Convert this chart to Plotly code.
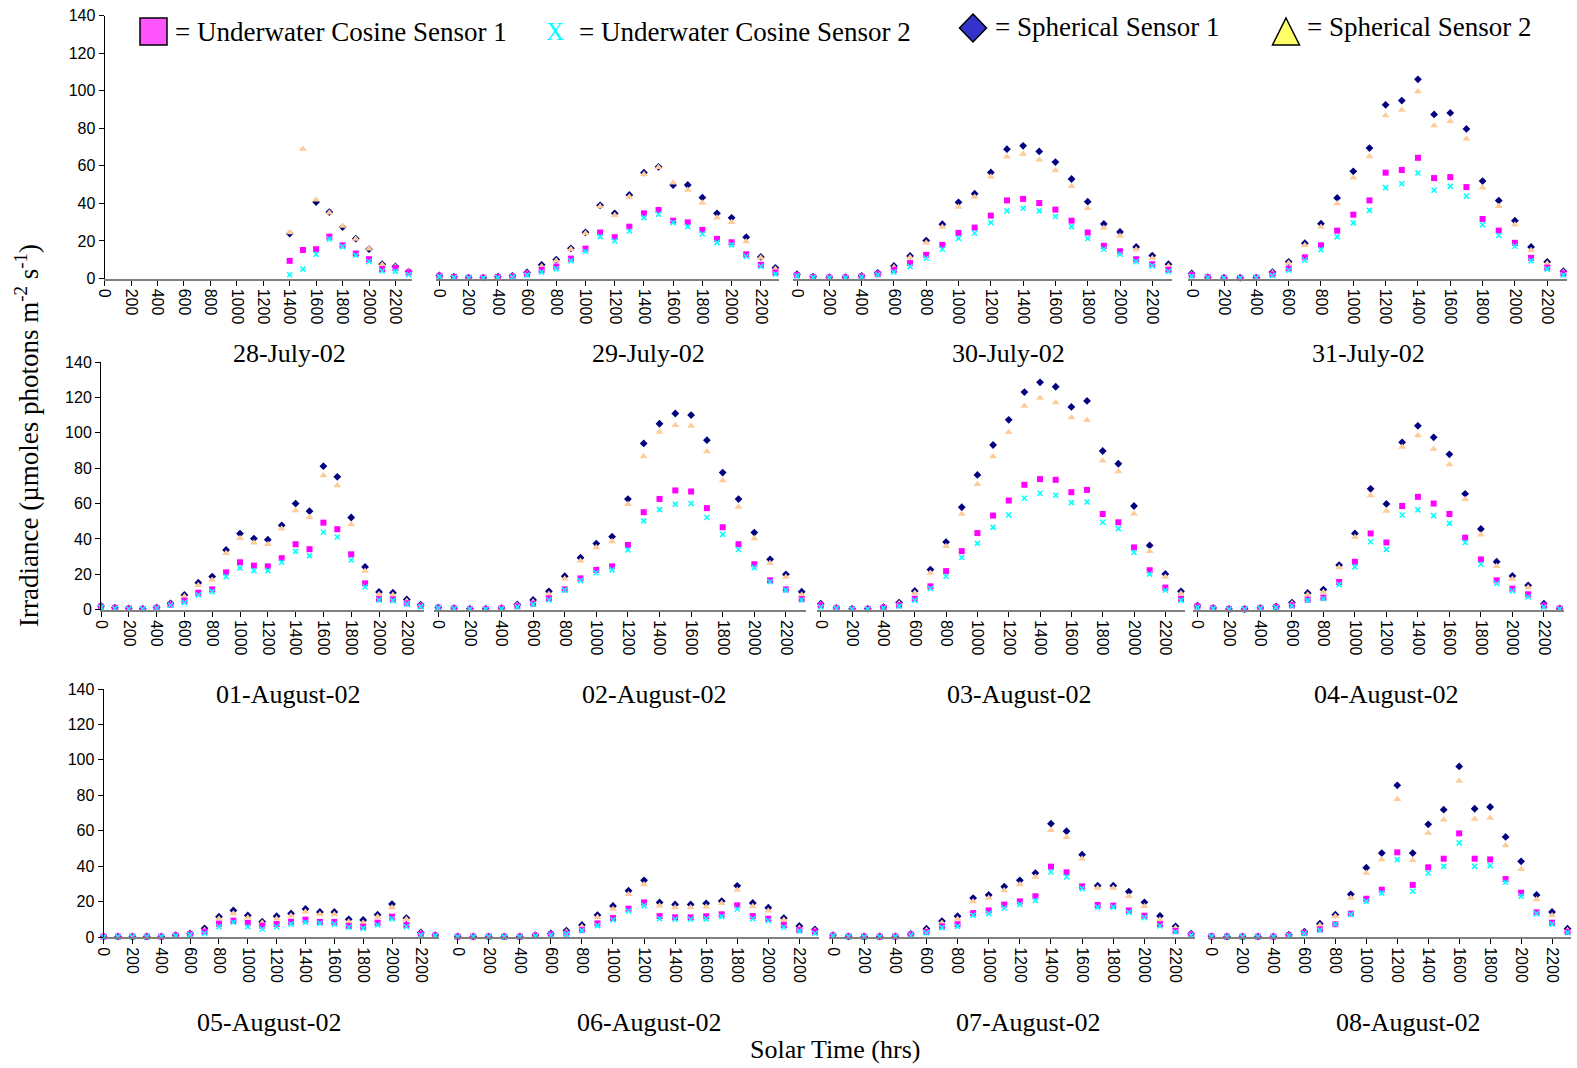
import plotly.graph_objects as go

W, H = 1577, 1068

hours = list(range(0, 2400, 100))
tick_hours = list(range(0, 2400, 200))
y_ticks = list(range(0, 160, 20))

dates = ["28-July-02", "29-July-02", "30-July-02", "31-July-02",
         "01-August-02", "02-August-02", "03-August-02", "04-August-02",
         "05-August-02", "06-August-02", "07-August-02", "08-August-02"]

N = None
# ---- 28 July (record starts at 1400) ----
jul28_sph1 = [N]*14 + [23.9, N, 40.7, 35.4, 27.4, 21.2, 15.6, 7.6, 6.4, 3.7]
jul28_sph2 = [N]*14 + [24.5, 69, 42, 35, 28, 21, 15.9, 7.3, 6.2, 3.7]
jul28_cos1 = [N]*14 + [9.4, 15.2, 15.6, 22.3, 17.7, 13.3, 10.3, 5, 5.5, 3.2]
jul28_cos2 = [N]*14 + [2, 5, 12.9, 21, 17, 12.4, 9, 4, 3.8, 2]
# ---- 29 July ----
jul29_sph1 = [1.6, 1, 0.5, 0.5, 1, 1.4, 3.2, 7.3, 10.1, 16.1, 24.6, 39, 34.7, 44.5, 56.4, 59.5, 49.8, 49.8, 43.1, 34.7, 32.3, 22, 11.5, 5.7]
jul29_sph2 = [1.4, 0.9, 0.4, 0.4, 0.9, 1.2, 2.8, 6.4, 9.4, 15.6, 24.1, 38.3, 33.7, 43.6, 55.6, 59.2, 51, 47.1, 40.4, 32.4, 29.9, 19.7, 11, 5.1]
jul29_cos1 = [1.4, 0.8, 0.4, 0.4, 0.8, 1, 2.3, 4.6, 6.4, 10.6, 15.9, 24.5, 22, 27.6, 34.7, 36.5, 30.8, 29.9, 25.9, 21.1, 19.3, 12.9, 7.3, 3.2]
jul29_cos2 = [1, 0.5, 0.2, 0.2, 0.5, 0.7, 1.8, 3.4, 5.1, 9.4, 14.4, 22.3, 20, 25.3, 32.4, 34.2, 29.8, 27.6, 23.7, 19.1, 17.9, 11.7, 6.4, 2.3]
# ---- 30 July ----
jul30_sph1 = [2.3, 1, 0.7, 0.7, 1.4, 3, 6.7, 12, 20.2, 28.9, 40.6, 45.2, 56.5, 68.9, 70.7, 67.7, 62, 53, 40.9, 29.1, 24.8, 16.8, 12.2, 7.6]
jul30_sph2 = [2, 0.9, 0.6, 0.6, 1.2, 2.6, 6, 11.2, 19, 27.5, 38.1, 43.4, 54.2, 64.9, 66.3, 63.3, 57.6, 49.1, 37.4, 26.9, 22.7, 15.4, 10.8, 6.6]
jul30_cos1 = [1.8, 0.8, 0.5, 0.5, 1, 2.3, 4.6, 8.2, 12.6, 17.9, 24.3, 27.1, 33.5, 41.6, 42.4, 40.2, 36.7, 30.8, 24.5, 17.4, 14.5, 10.3, 7.6, 4.6]
jul30_cos2 = [1.4, 0.6, 0.3, 0.3, 0.8, 2, 3.4, 6.4, 10.8, 15.6, 21.4, 24.1, 29.8, 36, 37.4, 36, 33, 27.6, 21.4, 15.6, 12.9, 9, 6.7, 3.7]
# ---- 31 July ----
jul31_sph1 = [2.7, 0.7, 0.4, 0.4, 0.5, 3.4, 8.9, 18.8, 29.2, 42.9, 57.1, 69.5, 92.5, 94.8, 106.1, 87.4, 88.2, 79.7, 51.9, 41.5, 30.8, 16.8, 8.9, 3.9]
jul31_sph2 = [2.3, 0.6, 0.3, 0.3, 0.4, 3, 8.3, 17.7, 27.5, 39.9, 53.7, 65, 86.8, 89.8, 99.6, 81.5, 83.8, 74.4, 48.4, 38.5, 28.7, 15.1, 8, 3.4]
jul31_cos1 = [1.8, 0.6, 0.3, 0.3, 0.4, 2.2, 5.3, 11.3, 17.7, 25.5, 34, 41.6, 56.4, 57.8, 64.3, 53.5, 54, 48.7, 31.7, 25.5, 19, 11, 5.8, 2.7]
jul31_cos2 = [1.2, 0.4, 0.2, 0.2, 0.3, 1.6, 4.4, 9.7, 15.4, 22.2, 29.6, 36.3, 48.4, 50.5, 56.2, 47, 49.1, 43.8, 28.7, 22.9, 17.2, 9.4, 5, 1.8]
# ---- 01 August ----
aug01_sph1 = [2.1, 1.1, 0.8, 0.6, 1.3, 3.6, 8.3, 15.3, 18.7, 33.8, 43, 40.2, 39.6, 47.7, 60, 55.7, 81.1, 75.1, 52.1, 24.2, 10, 9.6, 5.8, 2.8]
aug01_sph2 = [1.9, 1, 0.7, 0.5, 1.2, 3.2, 7.4, 13.8, 16.8, 31.9, 40.4, 37.9, 37, 45.7, 56, 52.3, 75.8, 70.2, 48.1, 21.9, 8.7, 8.3, 4.9, 2.5]
aug01_cos1 = [1.7, 0.9, 0.6, 0.4, 1, 2.8, 5.1, 9.6, 11.5, 21.1, 26.8, 24.9, 24.5, 29.1, 37, 34.2, 49.2, 45.5, 31.3, 14.9, 6, 5.8, 3.6, 2.2]
aug01_cos2 = [1.3, 0.7, 0.4, 0.3, 0.8, 2.5, 4, 8.3, 10.2, 18.7, 23.6, 22.1, 22.1, 26.8, 33, 30.6, 43.8, 41.1, 28.1, 12.8, 5.5, 5.1, 3.2, 1.7]
# ---- 02 August ----
aug02_sph1 = [1.3, 0.9, 0.6, 0.6, 0.9, 3, 5.5, 10.4, 18.9, 29.4, 37.4, 41.3, 62.5, 94, 105.1, 110.9, 110, 95.8, 77.5, 62.5, 43.6, 28.5, 20, 10.2]
aug02_sph2 = [1.2, 0.8, 0.5, 0.5, 0.8, 2.6, 4.5, 8.9, 17.5, 27.5, 35.1, 38.5, 59.6, 86.6, 100.4, 104.2, 103.8, 89.4, 73, 58.1, 40.2, 26.2, 18.5, 8.5]
aug02_cos1 = [1.1, 0.7, 0.4, 0.4, 0.7, 2, 3.4, 6.4, 11.5, 17.7, 22.5, 24.5, 36.6, 55.1, 62.6, 67.4, 66.8, 57.4, 46.6, 37, 25.7, 16.6, 11.5, 6]
aug02_cos2 = [0.9, 0.5, 0.3, 0.3, 0.5, 1.6, 3, 5.5, 11.1, 16.4, 20.9, 22.5, 33.8, 50.2, 56.6, 59.6, 60, 52.1, 42.6, 34, 23.8, 15.8, 11.1, 5.5]
# ---- 03 August ----
aug03_sph1 = [3.4, 1, 0.6, 0.6, 1.5, 4, 10.6, 22.7, 38.2, 57.9, 76.2, 93.1, 107.3, 123, 128.5, 126, 114.6, 118, 89.7, 82.5, 58.6, 36.3, 20.2, 10.4]
aug03_sph2 = [3, 0.9, 0.5, 0.5, 1.3, 3.5, 9.5, 20.8, 35.9, 54.1, 70.9, 86.6, 100.3, 115.2, 119.7, 117.1, 108.6, 107.1, 84.2, 78.1, 54.3, 33.1, 18.5, 9.1]
aug03_cos1 = [2.5, 0.8, 0.4, 0.4, 1.1, 2.5, 6.2, 13.2, 21.8, 33.1, 43.3, 53.2, 61.7, 70.6, 73.8, 73.4, 66.4, 67.7, 54.1, 49.4, 35.2, 22.3, 12.5, 6.2]
aug03_cos2 = [1.5, 0.6, 0.3, 0.3, 0.8, 2, 5.3, 11.9, 18.9, 29.5, 37.5, 46.5, 53.5, 63, 65.8, 64.7, 60.5, 60.9, 49.4, 45.8, 32.3, 20.1, 11, 5.3]
# ---- 04 August ----
aug04_sph1 = [2.3, 1, 0.4, 0.4, 1, 1.9, 4, 9.5, 11.4, 25.2, 43.1, 68.3, 59.8, 94.6, 103.9, 97.4, 87.8, 65.5, 45.6, 27.1, 19.1, 13.8, 3.4, 0.8]
aug04_sph2 = [2, 0.9, 0.3, 0.3, 0.9, 1.7, 3.5, 8.5, 10, 23.8, 40.9, 64.5, 55.8, 91.9, 98.4, 90.8, 82.1, 62.4, 42.4, 24.6, 17.4, 12.5, 2.5, 0.7]
aug04_cos1 = [1.9, 0.8, 0.3, 0.3, 0.8, 1.5, 2.5, 5.7, 6.8, 15.7, 27.1, 43.1, 38, 58.6, 63.8, 60, 54.1, 40.7, 28.4, 16.6, 11.9, 8.7, 2.3, 0.6]
aug04_cos2 = [1.3, 0.6, 0.2, 0.2, 0.6, 1.2, 2.1, 5.3, 6.2, 14.2, 24.2, 38.4, 34.1, 53.5, 56.4, 53.2, 48.8, 38, 25.7, 14.8, 10.6, 7.2, 1.5, 0.4]
# ---- 05 August ----
aug05_sph1 = [0.3, 0.3, 0.3, 0.3, 0.3, 1.1, 2, 4.9, 11.5, 15, 12.2, 8.6, 11.7, 13.3, 15.8, 14.1, 14.1, 10, 9.6, 12.6, 18.6, 10.7, 2.6, 1.1]
aug05_sph2 = [0.3, 0.3, 0.3, 0.3, 0.3, 1, 1.8, 4, 10.3, 13.3, 10.9, 8.1, 10.3, 12, 14.3, 12.8, 12.8, 8.6, 8.1, 11.5, 16.7, 10, 2.2, 1]
aug05_cos1 = [0.2, 0.2, 0.2, 0.2, 0.2, 0.8, 1.6, 3, 7.5, 9.2, 7.9, 6.4, 7.3, 8.6, 9.8, 8.5, 8.5, 6.2, 5.8, 8.1, 11.5, 6.8, 1.7, 0.8]
aug05_cos2 = [0.1, 0.1, 0.1, 0.1, 0.1, 0.6, 1.2, 2, 5.8, 8.3, 5.8, 4.5, 5.8, 7.3, 8.3, 7.7, 7.3, 5.5, 4.9, 6.8, 10.2, 5.8, 1.1, 0.6]
# ---- 06 August ----
aug06_sph1 = [0.4, 0.3, 0.3, 0.3, 0.3, 1.1, 2, 3.6, 6.8, 12.4, 17.5, 26.1, 32, 19.5, 18.4, 18.4, 19, 20.3, 28.9, 19.2, 16.5, 10.7, 6.2, 4.3]
aug06_sph2 = [0.3, 0.3, 0.3, 0.3, 0.3, 1, 1.7, 3, 5.8, 11.1, 15.8, 24.2, 29.7, 17.7, 16.7, 16.7, 17.1, 19, 26.5, 17.3, 14.8, 9.6, 5.1, 3.6]
aug06_cos1 = [0.2, 0.2, 0.2, 0.2, 0.2, 0.7, 1.5, 2, 3.9, 7.7, 10.7, 16, 19.5, 11.8, 11.1, 11.1, 11.7, 12.8, 17.9, 11.8, 10.3, 6.8, 3.9, 3]
aug06_cos2 = [0.1, 0.1, 0.1, 0.1, 0.1, 0.5, 1.1, 1.6, 3.6, 6.4, 9.6, 14.7, 17.7, 10.3, 10, 10, 10.2, 11.5, 15.8, 10.3, 9.2, 5.5, 3.3, 2]
# ---- 07 August ----
aug07_sph1 = [1.1, 0.4, 0.3, 0.3, 0.4, 1.7, 4.7, 9, 11.7, 22, 23.7, 28.4, 32, 36.1, 64, 59.7, 46.5, 29, 29, 25.6, 19.6, 11.9, 6, 1.9]
aug07_sph2 = [1, 0.3, 0.2, 0.2, 0.3, 1.5, 3.8, 7.9, 10.2, 20.1, 22, 26.3, 29.7, 33.9, 60.2, 56.3, 44.2, 27.7, 27.7, 23, 17.3, 9.8, 5.1, 1.7]
aug07_cos1 = [0.8, 0.3, 0.2, 0.2, 0.3, 1.3, 2.8, 6, 7.2, 13.5, 15, 18.3, 20.1, 23, 39.7, 36.5, 28.6, 18.1, 17.7, 15, 12, 7.2, 3.4, 1.3]
aug07_cos2 = [0.6, 0.2, 0.1, 0.1, 0.2, 1, 2.3, 5.3, 6, 12.2, 13.2, 16.4, 18.4, 20.7, 36.7, 33.9, 27.3, 16.9, 16.9, 13.9, 10.9, 6.2, 2.8, 1]
# ---- 08 August ----
aug08_sph1 = [0.4, 0.3, 0.3, 0.3, 0.3, 1.3, 3, 7.5, 12.6, 24.1, 39.1, 47.4, 85.6, 47.4, 63.6, 71.9, 96.3, 72.4, 73.4, 56.5, 42.7, 23.7, 14.1, 4.7]
aug08_sph2 = [0.3, 0.3, 0.3, 0.3, 0.3, 1.1, 2.6, 6.6, 11.7, 22, 36.1, 43.8, 77.7, 43.3, 58.7, 66.2, 88.1, 66.6, 67.2, 51.6, 38.2, 21.1, 12.2, 3.8]
aug08_cos1 = [0.3, 0.2, 0.2, 0.2, 0.2, 0.9, 2.3, 4.3, 7.2, 13.2, 21.6, 26.7, 47.8, 29.4, 39.3, 44.2, 58.5, 44.2, 43.8, 32.7, 25, 13.9, 8.1, 2.8]
aug08_cos2 = [0.2, 0.1, 0.1, 0.1, 0.1, 0.7, 1.9, 3.8, 7.2, 12.8, 20.1, 24.8, 43.7, 25.8, 36.1, 39.9, 53.1, 39.9, 40.3, 30.9, 23.1, 13.2, 7.3, 2.4]

days = [
    (jul28_sph1, jul28_sph2, jul28_cos1, jul28_cos2),
    (jul29_sph1, jul29_sph2, jul29_cos1, jul29_cos2),
    (jul30_sph1, jul30_sph2, jul30_cos1, jul30_cos2),
    (jul31_sph1, jul31_sph2, jul31_cos1, jul31_cos2),
    (aug01_sph1, aug01_sph2, aug01_cos1, aug01_cos2),
    (aug02_sph1, aug02_sph2, aug02_cos1, aug02_cos2),
    (aug03_sph1, aug03_sph2, aug03_cos1, aug03_cos2),
    (aug04_sph1, aug04_sph2, aug04_cos1, aug04_cos2),
    (aug05_sph1, aug05_sph2, aug05_cos1, aug05_cos2),
    (aug06_sph1, aug06_sph2, aug06_cos1, aug06_cos2),
    (aug07_sph1, aug07_sph2, aug07_cos1, aug07_cos2),
    (aug08_sph1, aug08_sph2, aug08_cos1, aug08_cos2),
]

# ---- layout geometry (pixels): x of hour 0, px per 100 h, top (140) and bottom (0) of plot ----
rows_y = [(15.7, 278.5), (362.0, 609.7), (689.0, 937.0)]
cols_x = [
    [(104.6, 13.22), (439.4, 14.61), (797.0, 16.15), (1191.7, 16.16)],
    [(101.0, 13.90), (438.3, 15.80), (820.8, 15.66), (1197.4, 15.75)],
    [(103.6, 14.42), (457.7, 15.53), (833.0, 15.57), (1211.5, 15.48)],
]
date_label_pos = [
    [(289, 353), (648, 353), (1008, 353), (1368, 353)],
    [(288, 694), (654, 694), (1019, 694), (1386, 694)],
    [(269, 1022), (649, 1022), (1028, 1022), (1408, 1022)],
]

styles = [
    dict(name="Spherical Sensor 1", marker=dict(symbol="diamond", size=6, color="#000080")),
    dict(name="Spherical Sensor 2", marker=dict(symbol="triangle-up", size=7, color="#FFCC99")),
    dict(name="Underwater Cosine Sensor 1", marker=dict(symbol="square", size=6, color="#FF00FF")),
    dict(name="Underwater Cosine Sensor 2", marker=dict(symbol="x-thin", size=5,
                                                      color="#00FFFF",
                                                      line=dict(color="#00FFFF", width=1.6))),
]

SANS = "Liberation Sans"
SERIF = "Liberation Serif"

fig = go.Figure()
layout = dict(width=W, height=H, margin=dict(l=0, r=0, t=0, b=0, pad=0, autoexpand=False),
              template="none",
              paper_bgcolor="white", plot_bgcolor="white", showlegend=False)

annotations = []
shapes = []

def px(x):
    return x / W

def py(y):
    return 1 - y / H

for r in range(3):
    top, bottom = rows_y[r]
    for c in range(4):
        n = r * 4 + 1 + c
        p0, k = cols_x[r][c]
        xr = [0, 2325] if c == 0 else [-25, 2325]
        left = p0 + xr[0] * k / 100.0
        right = p0 + xr[1] * k / 100.0
        xs = "x" if n == 1 else f"x{n}"
        ys = "y" if n == 1 else f"y{n}"
        xkey = "xaxis" if n == 1 else f"xaxis{n}"
        ykey = "yaxis" if n == 1 else f"yaxis{n}"
        layout[xkey] = dict(domain=[px(left), px(right)], range=xr, anchor=ys, automargin=False,
                            tickmode="array", tickvals=tick_hours,
                            ticktext=[str(h) for h in tick_hours],
                            tickangle=90, ticks="outside", ticklen=5, tickwidth=1,
                            tickcolor="black", showline=True, linecolor="#808080",
                            linewidth=2, showgrid=False, zeroline=False,
                            tickfont=dict(family=SANS, size=16, color="black"))
        ydict = dict(domain=[py(bottom), py(top)], range=[0, 140], anchor=xs, automargin=False,
                     showgrid=False, zeroline=False)
        if c == 0:
            ydict.update(tickmode="array", tickvals=y_ticks, ticks="outside", ticklen=5,
                         tickcolor="black", showline=True, linecolor="black", linewidth=1,
                         tickfont=dict(family=SANS, size=16, color="black"))
        else:
            ydict.update(showticklabels=False, showline=False, ticks="")
        layout[ykey] = ydict

        for vals, st in zip(days[n - 1], styles):
            fig.add_trace(go.Scatter(x=hours, y=vals, mode="markers", xaxis=xs, yaxis=ys,
                                     name=st["name"], marker=st["marker"], cliponaxis=False,
                                     hoverinfo="x+y+name"))
        lx, ly = date_label_pos[r][c]
        annotations.append(dict(text=dates[n - 1], x=px(lx), y=py(ly), xref="paper", yref="paper",
                                showarrow=False, xanchor="center", yanchor="middle",
                                font=dict(family=SERIF, size=26, color="black")))

# axis titles
annotations.append(dict(text="Solar Time (hrs)", x=px(835), y=py(1049), xref="paper", yref="paper",
                        showarrow=False, xanchor="center", yanchor="middle",
                        font=dict(family=SERIF, size=26, color="black")))
annotations.append(dict(text="Irradiance (µmoles photons m<sup>-2</sup> s<sup>-1</sup>)",
                        x=px(27), y=py(436), xref="paper", yref="paper", textangle=-90,
                        showarrow=False, xanchor="center", yanchor="middle",
                        font=dict(family=SERIF, size=27, color="black")))

# legend (drawn as in the original figure)
leg_font = dict(family=SERIF, size=27, color="black")
legend_texts = [("= Underwater Cosine Sensor 1", 173, 32), ("= Underwater Cosine Sensor 2", 577, 32),
                ("= Spherical Sensor 1", 993, 27), ("= Spherical Sensor 2", 1305, 27)]
for t, x, y in legend_texts:
    annotations.append(dict(text=t, x=px(x), y=py(y), xref="paper", yref="paper", showarrow=False,
                            xanchor="left", yanchor="middle", font=leg_font))
annotations.append(dict(text="X", x=px(555), y=py(31), xref="paper", yref="paper", showarrow=False,
                        xanchor="center", yanchor="middle",
                        font=dict(family=SERIF, size=25, color="#00FFFF")))

shapes.append(dict(type="rect", xref="paper", yref="paper", x0=px(140), x1=px(167), y0=py(45), y1=py(18),
                   fillcolor="#FF55FF", line=dict(color="black", width=1.5)))
dcx, dcy = 973, 28
shapes.append(dict(type="path", xref="paper", yref="paper",
                   path=f"M {px(dcx)} {py(dcy-14)} L {px(dcx+13.5)} {py(dcy)} L {px(dcx)} {py(dcy+14)} L {px(dcx-13.5)} {py(dcy)} Z",
                   fillcolor="#3333CC", line=dict(color="black", width=1.5)))
shapes.append(dict(type="path", xref="paper", yref="paper",
                   path=f"M {px(1286)} {py(18)} L {px(1299.5)} {py(45)} L {px(1272.5)} {py(45)} Z",
                   fillcolor="#FFFF66", line=dict(color="black", width=1.5)))

layout["annotations"] = annotations
layout["shapes"] = shapes
fig.update_layout(**layout)
fig.write_html("out.html")
